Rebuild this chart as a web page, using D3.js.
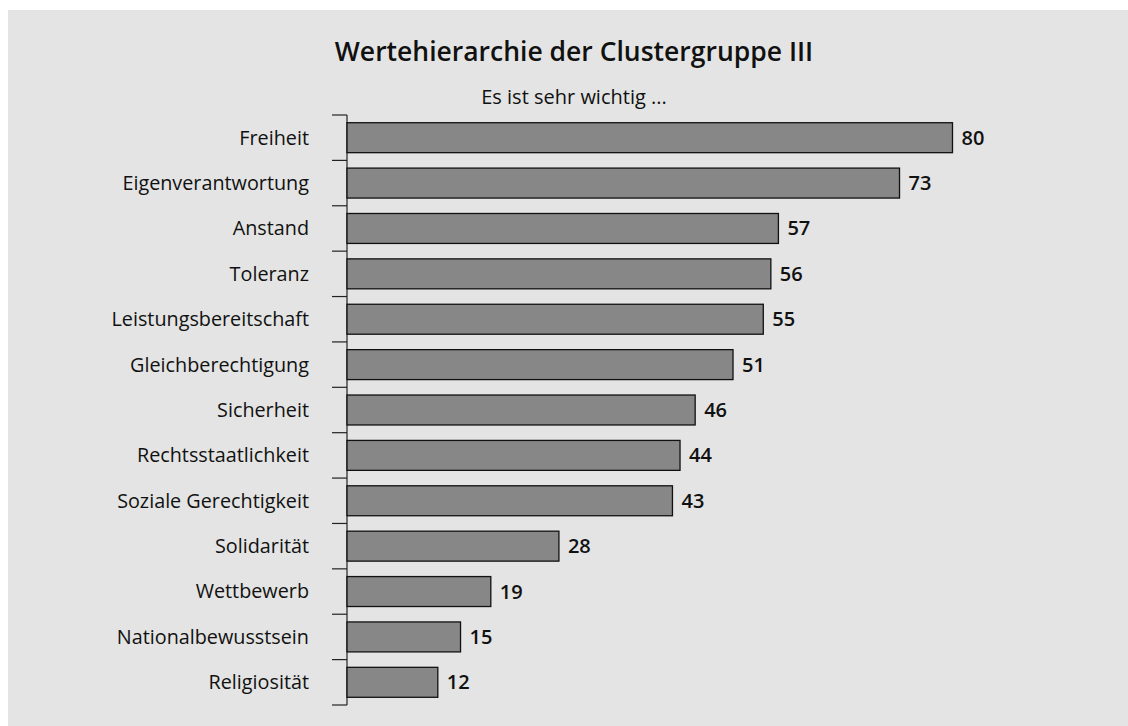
<!DOCTYPE html>
<meta charset="utf-8">
<style>
  body { margin: 0; background: #fff; }
  .label { font-family: "Open Sans", sans-serif; font-size: 19.8px; fill: #111; }
  .value { font-family: "Open Sans", sans-serif; font-size: 20px; font-weight: 600; fill: #111; }
  .title { font-family: "Open Sans", sans-serif; font-size: 26.5px; font-weight: 600; fill: #111; }
  .subtitle { font-family: "Open Sans", sans-serif; font-size: 20px; fill: #111; }
</style>
<body>
<svg width="1128" height="726"></svg>
<script src="https://d3js.org/d3.v7.min.js"></script>
<script>

var categories = ["Freiheit", "Eigenverantwortung", "Anstand", "Toleranz",
    "Leistungsbereitschaft", "Gleichberechtigung", "Sicherheit",
    "Rechtsstaatlichkeit", "Soziale Gerechtigkeit", "Solidarität",
    "Wettbewerb", "Nationalbewusstsein", "Religiosität"];
var values = [80, 73, 57, 56, 55, 51, 46, 44, 43, 28, 19, 15, 12];

var svg = d3.select("svg"),
    width = +svg.attr("width"),
    height = +svg.attr("height");

svg.append("rect")
    .attr("x", 8).attr("y", 10)
    .attr("width", width - 8).attr("height", height - 10)
    .attr("fill", "#e3e4e3");

svg.append("text")
    .attr("class", "title")
    .attr("x", 574).attr("y", 61)
    .attr("text-anchor", "middle")
    .text("Wertehierarchie der Clustergruppe III");

svg.append("text")
    .attr("class", "subtitle")
    .attr("x", 574).attr("y", 104)
    .attr("text-anchor", "middle")
    .text("Es ist sehr wichtig ...");

var axisX = 347;

var x = d3.scaleLinear()
    .domain([0, 80])
    .range([axisX, 952.5]);

// outer bands for the ticks, inner for the bars (same step)
var yBand = d3.scaleBand()
    .domain(categories)
    .range([115, 705]);
var y = d3.scaleBand()
    .domain(categories)
    .range([115, 705])
    .paddingInner(0.34)
    .paddingOuter(0.17);

var boundaries = categories.map(function(c) { return yBand(c); });
boundaries.push(yBand(categories[categories.length - 1]) + yBand.step());

svg.append("line")
    .attr("x1", axisX).attr("x2", axisX)
    .attr("y1", boundaries[0]).attr("y2", boundaries[boundaries.length - 1])
    .attr("stroke", "#222").attr("stroke-width", 1.2);

svg.append("g")
    .selectAll("line")
    .data(boundaries)
    .enter().append("line")
        .attr("x1", axisX - 15).attr("x2", axisX)
        .attr("y1", function(d) { return d; })
        .attr("y2", function(d) { return d; })
        .attr("stroke", "#222").attr("stroke-width", 1.2);

svg.append("g")
    .selectAll("rect")
    .data(values)
    .enter().append("rect")
        .attr("x", x(0))
        .attr("y", function(d, i) { return y(categories[i]); })
        .attr("width", function(d) { return x(d) - x(0); })
        .attr("height", y.bandwidth())
        .attr("fill", "#878787")
        .attr("stroke", "#111")
        .attr("stroke-width", 1.3);

svg.append("g")
    .selectAll("text")
    .data(categories)
    .enter().append("text")
        .attr("class", "label")
        .attr("x", 309)
        .attr("y", function(d) { return yBand(d) + yBand.step() / 2; })
        .attr("dy", "0.35em")
        .attr("text-anchor", "end")
        .text(function(d) { return d; });

svg.append("g")
    .selectAll("text")
    .data(values)
    .enter().append("text")
        .attr("class", "value")
        .attr("x", function(d) { return x(d) + 9; })
        .attr("y", function(d, i) { return yBand(categories[i]) + yBand.step() / 2; })
        .attr("dy", "0.35em")
        .text(function(d) { return d; });

</script>
</body>
